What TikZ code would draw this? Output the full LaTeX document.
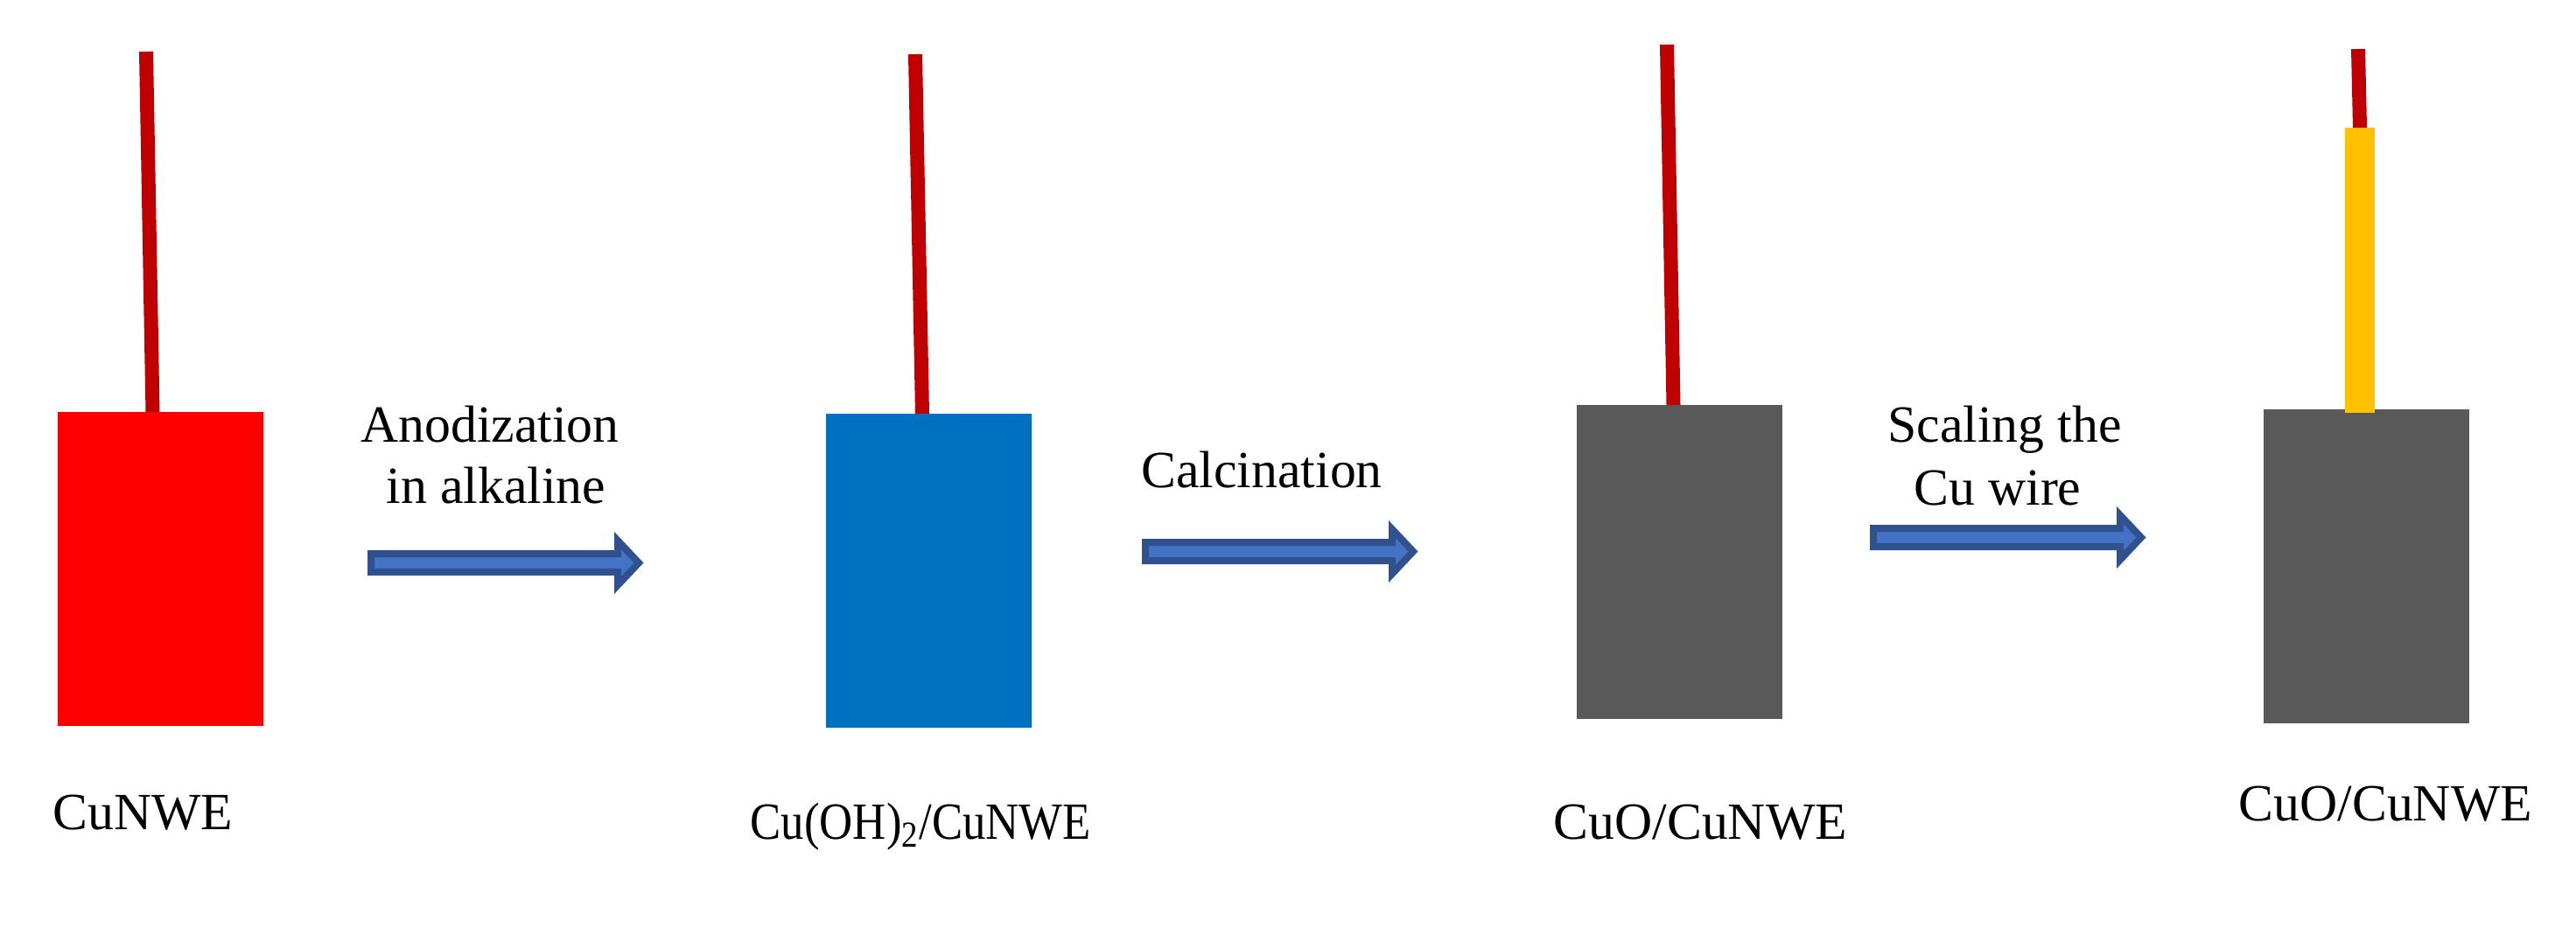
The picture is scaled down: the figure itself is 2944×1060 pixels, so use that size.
\documentclass[tikz,border=0pt]{standalone}
\usepackage{fontspec}
\setmainfont{Liberation Serif}
\usepackage{graphicx}
\usepackage{tikz}

\definecolor{cuRed}{HTML}{FF0000}
\definecolor{wireRed}{HTML}{C00000}
\definecolor{hydBlue}{HTML}{0070C0}
\definecolor{oxGray}{HTML}{595959}
\definecolor{sealYellow}{HTML}{FFC000}
\definecolor{arrFill}{HTML}{4472C4}
\definecolor{arrLine}{HTML}{2F528F}

% block arrow: #1 start x, #2 tip x, #3 middle y
\newcommand{\procarrow}[3]{%
  \draw[procarrow] (#1+4,#3-10.5) -- (#2-30,#3-10.5) -- (#2-30,#3-25.5)
    -- (#2-6,#3) -- (#2-30,#3+25.5) -- (#2-30,#3+10.5) -- (#1+4,#3+10.5) -- cycle;}

\begin{document}
\begin{tikzpicture}[x=0.1mm,y=-0.1mm]
\pgfmathsetmacro{\boxW}{235}
\pgfmathsetmacro{\boxH}{359}

\tikzstyle{wire}=[wireRed,line width=1.6mm]
\tikzstyle{procarrow}=[fill=arrFill,draw=arrLine,line width=0.8mm,miter limit=10]
\tikzstyle{lbl}=[inner sep=0,font=\fontsize{17}{20}\selectfont]

\useasboundingbox (0,0) rectangle (2944,1060);

% electrodes
\fill[cuRed] (66,471) rectangle ++(\boxW,\boxH);
\draw[wire] (167,59) -- (174.5,471);
\fill[hydBlue] (944,473) rectangle ++(\boxW,\boxH);
\draw[wire] (1046,62) -- (1054,473);
\fill[oxGray] (1802,463) rectangle ++(\boxW,\boxH);
\draw[wire] (1905,51) -- (1912.5,463);
\fill[oxGray] (2587,468) rectangle ++(\boxW,\boxH);
\draw[wire] (2695,56) -- (2697,146);
\fill[sealYellow] (2680,146) rectangle (2714,472);

% process steps
\procarrow{420}{736}{643.5}
\procarrow{1305}{1621}{630.5}
\procarrow{2137}{2453}{614.5}
\node[lbl,anchor=base] (anodA) at (560,505) {Anodization};
\node[lbl,anchor=base] (anodB) at (567,575) {in alkaline};
\node[lbl,anchor=base] (calc) at (1442,557) {Calcination};
\node[lbl,anchor=base] (sealA) at (2291,505) {Scaling the};
\node[lbl,anchor=base] (sealB) at (2283,577) {Cu wire};

% sample names
\node[lbl,anchor=base west] (cu) at (60,948) {CuNWE};
\node[lbl,anchor=base west] (cuoh) at (857,959) {\scalebox{0.883}[1]{Cu(OH)\textsubscript{2}/CuNWE}};
\node[lbl,anchor=base west] (cuo) at (1775,959) {CuO/CuNWE};
\node[lbl,anchor=base west] (cuos) at (2558,938) {CuO/CuNWE};
\end{tikzpicture}
\end{document}
